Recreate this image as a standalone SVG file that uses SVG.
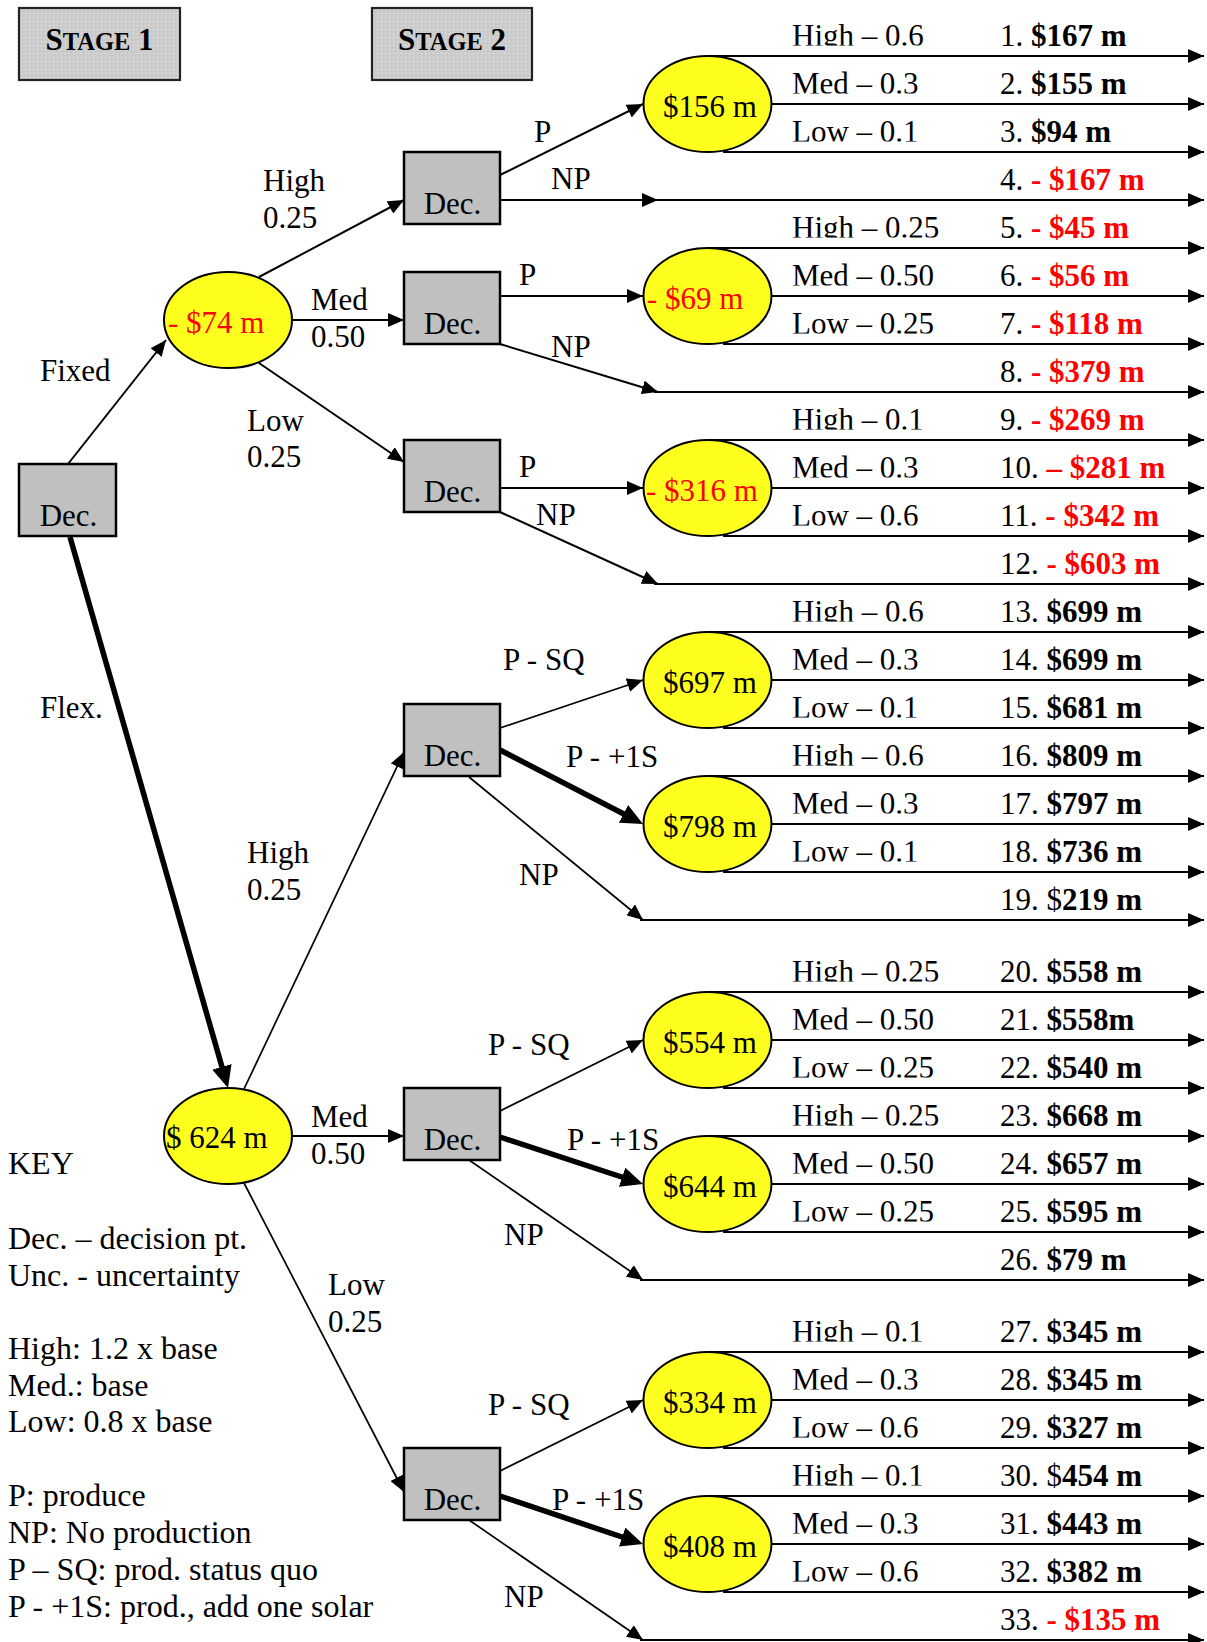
<svg xmlns="http://www.w3.org/2000/svg" width="1207" height="1642" viewBox="0 0 1207 1642">
  <style>
    .t { font-family: "Liberation Serif", "Times New Roman", serif; font-size: 31px; fill: #000; }
    .r { fill: #ff0000; }
    .b { font-weight: bold; }
    .dec rect { fill: #c0c0c0; stroke: #000; stroke-width: 2.5; }
    .unc ellipse { fill: url(#dotY); stroke: #000; stroke-width: 2; }
    .stage rect { fill: url(#dotG); stroke: #222; stroke-width: 2.2; }
    .ln { stroke: #000; stroke-width: 2; fill: none; }
    .fine { stroke: #000; stroke-width: 1.7; fill: none; }
    .thick { stroke: #000; stroke-width: 5.5; fill: none; }
  </style>
  <defs>
    <pattern id="dotY" width="4" height="4" patternUnits="userSpaceOnUse">
      <rect width="4" height="4" fill="#ffff1e"/>
      <rect x="1" y="1" width="1" height="1" fill="#ffffa0"/>
    </pattern>
    <pattern id="dotG" width="4" height="4" patternUnits="userSpaceOnUse">
      <rect width="4" height="4" fill="#cbcbcb"/>
      <rect x="1" y="1" width="1" height="1" fill="#ececec"/>
    </pattern>
    <marker id="ah" markerUnits="userSpaceOnUse" markerWidth="16" markerHeight="14" refX="16" refY="7" orient="auto">
      <path d="M0,0 L16,7 L0,14 z" fill="#000"/>
    </marker>
    <marker id="ahT" markerUnits="userSpaceOnUse" markerWidth="24" markerHeight="20" refX="14" refY="10" orient="auto">
      <path d="M0,0 L22,10 L0,20 z" fill="#000"/>
    </marker>
    <!-- probability labels are cut just at their baseline -->
    <clipPath id="cutL" clipPathUnits="userSpaceOnUse">
      <rect x="780" y="14" width="220" height="31.5"/>
      <rect x="780" y="62" width="220" height="31.5"/>
      <rect x="780" y="110" width="220" height="31.5"/>
      <rect x="780" y="206" width="220" height="31.5"/>
      <rect x="780" y="254" width="220" height="31.5"/>
      <rect x="780" y="302" width="220" height="31.5"/>
      <rect x="780" y="398" width="220" height="31.5"/>
      <rect x="780" y="446" width="220" height="31.5"/>
      <rect x="780" y="494" width="220" height="31.5"/>
      <rect x="780" y="590" width="220" height="31.5"/>
      <rect x="780" y="638" width="220" height="31.5"/>
      <rect x="780" y="686" width="220" height="31.5"/>
      <rect x="780" y="734" width="220" height="31.5"/>
      <rect x="780" y="782" width="220" height="31.5"/>
      <rect x="780" y="830" width="220" height="31.5"/>
      <rect x="780" y="950" width="220" height="31.5"/>
      <rect x="780" y="998" width="220" height="31.5"/>
      <rect x="780" y="1046" width="220" height="31.5"/>
      <rect x="780" y="1094" width="220" height="31.5"/>
      <rect x="780" y="1142" width="220" height="31.5"/>
      <rect x="780" y="1190" width="220" height="31.5"/>
      <rect x="780" y="1310" width="220" height="31.5"/>
      <rect x="780" y="1358" width="220" height="31.5"/>
      <rect x="780" y="1406" width="220" height="31.5"/>
      <rect x="780" y="1454" width="220" height="31.5"/>
      <rect x="780" y="1502" width="220" height="31.5"/>
      <rect x="780" y="1550" width="220" height="31.5"/>
    </clipPath>
  </defs>

  <rect width="1207" height="1642" fill="#fff"/>

  <!-- stage headers -->
  <g id="stage1" class="stage">
    <rect x="19" y="8" width="161" height="72"/>
    <text class="t b" x="99.5" y="50" text-anchor="middle" font-size="32">S<tspan font-size="24.5">TAGE</tspan> 1</text>
  </g>
  <g id="stage2" class="stage">
    <rect x="372" y="8" width="160" height="72"/>
    <text class="t b" x="452" y="50" text-anchor="middle" font-size="32">S<tspan font-size="24.5">TAGE</tspan> 2</text>
  </g>

  <!-- connectors -->
  <g id="connectors">
    <!-- stage 1 -->
    <path class="ln" d="M68,464 L166,340" marker-end="url(#ah)"/>
    <path class="thick" d="M70,537 L225.8,1080.3" marker-end="url(#ahT)"/>
    <path class="ln" d="M259,277 L404,200" marker-end="url(#ah)"/>
    <path class="ln" d="M292,320 L404,320" marker-end="url(#ah)"/>
    <path class="ln" d="M259,363 L404,462" marker-end="url(#ah)"/>
    <path class="fine" d="M244,1089 L404,752" marker-end="url(#ah)"/>
    <path class="ln" d="M292,1136 L404,1136" marker-end="url(#ah)"/>
    <path class="fine" d="M244,1183 L404,1492" marker-end="url(#ah)"/>

    <!-- stage 2, fixed branch -->
    <path class="ln" d="M500,175 L643,104" marker-end="url(#ah)"/>
    <path class="ln" d="M500,200 L658,200" marker-end="url(#ah)"/>
    <path class="ln" d="M500,296 L643,296" marker-end="url(#ah)"/>
    <path class="ln" d="M500,344 L658,392" marker-end="url(#ah)"/>
    <path class="ln" d="M500,488 L643,488" marker-end="url(#ah)"/>
    <path class="ln" d="M500,512 L658,584" marker-end="url(#ah)"/>

    <!-- stage 2, flexible branch -->
    <path class="fine" d="M500,728 L643,680" marker-end="url(#ah)"/>
    <path class="thick" d="M500,750 L635.9,820.3" marker-end="url(#ahT)"/>
    <path class="fine" d="M469,777 L643,920" marker-end="url(#ah)"/>
    <path class="fine" d="M500,1111 L643,1040" marker-end="url(#ah)"/>
    <path class="thick" d="M500,1137 L635.4,1181.5" marker-end="url(#ahT)"/>
    <path class="fine" d="M469,1160 L643,1280" marker-end="url(#ah)"/>
    <path class="fine" d="M500,1471 L643,1400" marker-end="url(#ah)"/>
    <path class="thick" d="M500,1496 L635.4,1541.5" marker-end="url(#ahT)"/>
    <path class="fine" d="M469,1520 L643,1640" marker-end="url(#ah)"/>

    <!-- outcome lines -->
    <path class="ln" d="M706,56 H1204" marker-end="url(#ah)"/>
    <path class="ln" d="M771,104 H1204" marker-end="url(#ah)"/>
    <path class="ln" d="M723,152 H1204" marker-end="url(#ah)"/>
    <path class="ln" d="M656,200 H1204" marker-end="url(#ah)"/>
    <path class="ln" d="M706,248 H1204" marker-end="url(#ah)"/>
    <path class="ln" d="M771,296 H1204" marker-end="url(#ah)"/>
    <path class="ln" d="M723,344 H1204" marker-end="url(#ah)"/>
    <path class="ln" d="M654,392 H1204" marker-end="url(#ah)"/>
    <path class="ln" d="M706,440 H1204" marker-end="url(#ah)"/>
    <path class="ln" d="M771,488 H1204" marker-end="url(#ah)"/>
    <path class="ln" d="M723,536 H1204" marker-end="url(#ah)"/>
    <path class="ln" d="M654,584 H1204" marker-end="url(#ah)"/>
    <path class="ln" d="M706,632 H1204" marker-end="url(#ah)"/>
    <path class="ln" d="M771,680 H1204" marker-end="url(#ah)"/>
    <path class="ln" d="M723,728 H1204" marker-end="url(#ah)"/>
    <path class="ln" d="M706,776 H1204" marker-end="url(#ah)"/>
    <path class="ln" d="M771,824 H1204" marker-end="url(#ah)"/>
    <path class="ln" d="M723,872 H1204" marker-end="url(#ah)"/>
    <path class="ln" d="M640,920 H1204" marker-end="url(#ah)"/>
    <path class="ln" d="M706,992 H1204" marker-end="url(#ah)"/>
    <path class="ln" d="M771,1040 H1204" marker-end="url(#ah)"/>
    <path class="ln" d="M723,1088 H1204" marker-end="url(#ah)"/>
    <path class="ln" d="M706,1136 H1204" marker-end="url(#ah)"/>
    <path class="ln" d="M771,1184 H1204" marker-end="url(#ah)"/>
    <path class="ln" d="M723,1232 H1204" marker-end="url(#ah)"/>
    <path class="ln" d="M640,1280 H1204" marker-end="url(#ah)"/>
    <path class="ln" d="M706,1352 H1204" marker-end="url(#ah)"/>
    <path class="ln" d="M771,1400 H1204" marker-end="url(#ah)"/>
    <path class="ln" d="M723,1448 H1204" marker-end="url(#ah)"/>
    <path class="ln" d="M706,1496 H1204" marker-end="url(#ah)"/>
    <path class="ln" d="M771,1544 H1204" marker-end="url(#ah)"/>
    <path class="ln" d="M723,1592 H1204" marker-end="url(#ah)"/>
    <path class="ln" d="M640,1640 H1204" marker-end="url(#ah)"/>
  </g>

  <!-- decision nodes -->
  <g id="dec-root" class="dec">
    <rect x="19" y="464" width="97" height="72"/>
    <text class="t" x="68.5" y="526" text-anchor="middle">Dec.</text>
  </g>
  <g id="dec-fixed-high" class="dec">
    <rect x="404" y="152" width="96" height="72"/>
    <text class="t" x="452.5" y="214" text-anchor="middle">Dec.</text>
  </g>
  <g id="dec-fixed-med" class="dec">
    <rect x="404" y="272" width="96" height="72"/>
    <text class="t" x="452.5" y="334" text-anchor="middle">Dec.</text>
  </g>
  <g id="dec-fixed-low" class="dec">
    <rect x="404" y="440" width="96" height="72"/>
    <text class="t" x="452.5" y="502" text-anchor="middle">Dec.</text>
  </g>
  <g id="dec-flex-high" class="dec">
    <rect x="404" y="704" width="96" height="72"/>
    <text class="t" x="452.5" y="766" text-anchor="middle">Dec.</text>
  </g>
  <g id="dec-flex-med" class="dec">
    <rect x="404" y="1088" width="96" height="72"/>
    <text class="t" x="452.5" y="1150" text-anchor="middle">Dec.</text>
  </g>
  <g id="dec-flex-low" class="dec">
    <rect x="404" y="1448" width="96" height="72"/>
    <text class="t" x="452.5" y="1510" text-anchor="middle">Dec.</text>
  </g>

  <!-- uncertainty nodes -->
  <g id="unc-fixed" class="unc">
    <ellipse cx="228" cy="320" rx="64" ry="48"/>
    <text class="t r" x="168" y="333">- $74 m</text>
  </g>
  <g id="unc-flex" class="unc">
    <ellipse cx="228" cy="1136" rx="64" ry="48"/>
    <text class="t" x="166" y="1148">$ 624 m</text>
  </g>
  <g id="unc-fh-p" class="unc">
    <ellipse cx="707.5" cy="104" rx="64" ry="48"/>
    <text class="t" x="663" y="117">$156 m</text>
  </g>
  <g id="unc-fm-p" class="unc">
    <ellipse cx="707.5" cy="296" rx="64" ry="48"/>
    <text class="t r" x="647" y="309">- $69 m</text>
  </g>
  <g id="unc-fl-p" class="unc">
    <ellipse cx="707.5" cy="488" rx="64" ry="48"/>
    <text class="t r" x="646" y="501">- $316 m</text>
  </g>
  <g id="unc-xh-sq" class="unc">
    <ellipse cx="707.5" cy="680" rx="64" ry="48"/>
    <text class="t" x="663" y="693">$697 m</text>
  </g>
  <g id="unc-xh-1s" class="unc">
    <ellipse cx="707.5" cy="824" rx="64" ry="48"/>
    <text class="t" x="663" y="837">$798 m</text>
  </g>
  <g id="unc-xm-sq" class="unc">
    <ellipse cx="707.5" cy="1040" rx="64" ry="48"/>
    <text class="t" x="663" y="1053">$554 m</text>
  </g>
  <g id="unc-xm-1s" class="unc">
    <ellipse cx="707.5" cy="1184" rx="64" ry="48"/>
    <text class="t" x="663" y="1197">$644 m</text>
  </g>
  <g id="unc-xl-sq" class="unc">
    <ellipse cx="707.5" cy="1400" rx="64" ry="48"/>
    <text class="t" x="663" y="1413">$334 m</text>
  </g>
  <g id="unc-xl-1s" class="unc">
    <ellipse cx="707.5" cy="1544" rx="64" ry="48"/>
    <text class="t" x="663" y="1557">$408 m</text>
  </g>

  <!-- branch labels -->
  <g id="branch-labels" class="t">
    <text x="40" y="381">Fixed</text>
    <text x="40" y="718">Flex.</text>
    <text x="263" y="191">High</text>
    <text x="263" y="228">0.25</text>
    <text x="311" y="310">Med</text>
    <text x="311" y="347">0.50</text>
    <text x="247" y="431">Low</text>
    <text x="247" y="467">0.25</text>
    <text x="247" y="863">High</text>
    <text x="247" y="900">0.25</text>
    <text x="311" y="1127">Med</text>
    <text x="311" y="1164">0.50</text>
    <text x="328" y="1295">Low</text>
    <text x="328" y="1332">0.25</text>
    <text x="534" y="142">P</text>
    <text x="551" y="189">NP</text>
    <text x="519" y="285">P</text>
    <text x="551" y="357">NP</text>
    <text x="519" y="477">P</text>
    <text x="536" y="525">NP</text>
    <text x="503" y="670">P - SQ</text>
    <text x="566" y="767">P - +1S</text>
    <text x="519" y="885">NP</text>
    <text x="488" y="1055">P - SQ</text>
    <text x="567" y="1150">P - +1S</text>
    <text x="504" y="1245">NP</text>
    <text x="488" y="1415">P - SQ</text>
    <text x="552" y="1510">P - +1S</text>
    <text x="504" y="1607">NP</text>
  </g>

  <!-- probabilities of the second-stage states -->
  <g id="state-labels" class="t" clip-path="url(#cutL)">
    <text x="792" y="46">High – 0.6</text>
    <text x="792" y="94">Med – 0.3</text>
    <text x="792" y="142">Low – 0.1</text>
    <text x="792" y="238">High – 0.25</text>
    <text x="792" y="286">Med – 0.50</text>
    <text x="792" y="334">Low – 0.25</text>
    <text x="792" y="430">High – 0.1</text>
    <text x="792" y="478">Med – 0.3</text>
    <text x="792" y="526">Low – 0.6</text>
    <text x="792" y="622">High – 0.6</text>
    <text x="792" y="670">Med – 0.3</text>
    <text x="792" y="718">Low – 0.1</text>
    <text x="792" y="766">High – 0.6</text>
    <text x="792" y="814">Med – 0.3</text>
    <text x="792" y="862">Low – 0.1</text>
    <text x="792" y="982">High – 0.25</text>
    <text x="792" y="1030">Med – 0.50</text>
    <text x="792" y="1078">Low – 0.25</text>
    <text x="792" y="1126">High – 0.25</text>
    <text x="792" y="1174">Med – 0.50</text>
    <text x="792" y="1222">Low – 0.25</text>
    <text x="792" y="1342">High – 0.1</text>
    <text x="792" y="1390">Med – 0.3</text>
    <text x="792" y="1438">Low – 0.6</text>
    <text x="792" y="1486">High – 0.1</text>
    <text x="792" y="1534">Med – 0.3</text>
    <text x="792" y="1582">Low – 0.6</text>
  </g>

  <!-- outcome values -->
  <g id="outcomes" class="t">
    <text x="1000" y="46">1. <tspan class="b">$167 m</tspan></text>
    <text x="1000" y="94">2. <tspan class="b">$155 m</tspan></text>
    <text x="1000" y="142">3. <tspan class="b">$94 m</tspan></text>
    <text x="1000" y="190">4. <tspan class="b r">- $167 m</tspan></text>
    <text x="1000" y="238">5. <tspan class="b r">- $45 m</tspan></text>
    <text x="1000" y="286">6. <tspan class="b r">- $56 m</tspan></text>
    <text x="1000" y="334">7. <tspan class="b r">- $118 m</tspan></text>
    <text x="1000" y="382">8. <tspan class="b r">- $379 m</tspan></text>
    <text x="1000" y="430">9. <tspan class="b r">- $269 m</tspan></text>
    <text x="1000" y="478">10. <tspan class="b r">– $281 m</tspan></text>
    <text x="1000" y="526">11. <tspan class="b r">- $342 m</tspan></text>
    <text x="1000" y="574">12. <tspan class="b r">- $603 m</tspan></text>
    <text x="1000" y="622">13. <tspan class="b">$699 m</tspan></text>
    <text x="1000" y="670">14. <tspan class="b">$699 m</tspan></text>
    <text x="1000" y="718">15. <tspan class="b">$681 m</tspan></text>
    <text x="1000" y="766">16. <tspan class="b">$809 m</tspan></text>
    <text x="1000" y="814">17. <tspan class="b">$797 m</tspan></text>
    <text x="1000" y="862">18. <tspan class="b">$736 m</tspan></text>
    <text x="1000" y="910">19. $<tspan class="b">219 m</tspan></text>
    <text x="1000" y="982">20. <tspan class="b">$558 m</tspan></text>
    <text x="1000" y="1030">21. <tspan class="b">$558m</tspan></text>
    <text x="1000" y="1078">22. <tspan class="b">$540 m</tspan></text>
    <text x="1000" y="1126">23. <tspan class="b">$668 m</tspan></text>
    <text x="1000" y="1174">24. <tspan class="b">$657 m</tspan></text>
    <text x="1000" y="1222">25. <tspan class="b">$595 m</tspan></text>
    <text x="1000" y="1270">26. <tspan class="b">$79 m</tspan></text>
    <text x="1000" y="1342">27. <tspan class="b">$345 m</tspan></text>
    <text x="1000" y="1390">28. <tspan class="b">$345 m</tspan></text>
    <text x="1000" y="1438">29. <tspan class="b">$327 m</tspan></text>
    <text x="1000" y="1486">30. $<tspan class="b">454 m</tspan></text>
    <text x="1000" y="1534">31. <tspan class="b">$443 m</tspan></text>
    <text x="1000" y="1582">32. <tspan class="b">$382 m</tspan></text>
    <text x="1000" y="1630">33. <tspan class="b r">- $135 m</tspan></text>
  </g>

  <!-- legend -->
  <g id="key" class="t" font-size="32">
    <text x="8" y="1174" font-size="32">KEY</text>
    <text x="8" y="1249" font-size="32">Dec. – decision pt.</text>
    <text x="8" y="1286" font-size="32">Unc. - uncertainty</text>
    <text x="8" y="1359" font-size="32">High: 1.2 x base</text>
    <text x="8" y="1396" font-size="32">Med.: base</text>
    <text x="8" y="1432" font-size="32">Low: 0.8 x base</text>
    <text x="8" y="1506" font-size="32">P: produce</text>
    <text x="8" y="1543" font-size="32">NP: No production</text>
    <text x="8" y="1580" font-size="32">P – SQ: prod. status quo</text>
    <text x="8" y="1617" font-size="32">P - +1S: prod., add one solar</text>
  </g>
</svg>
